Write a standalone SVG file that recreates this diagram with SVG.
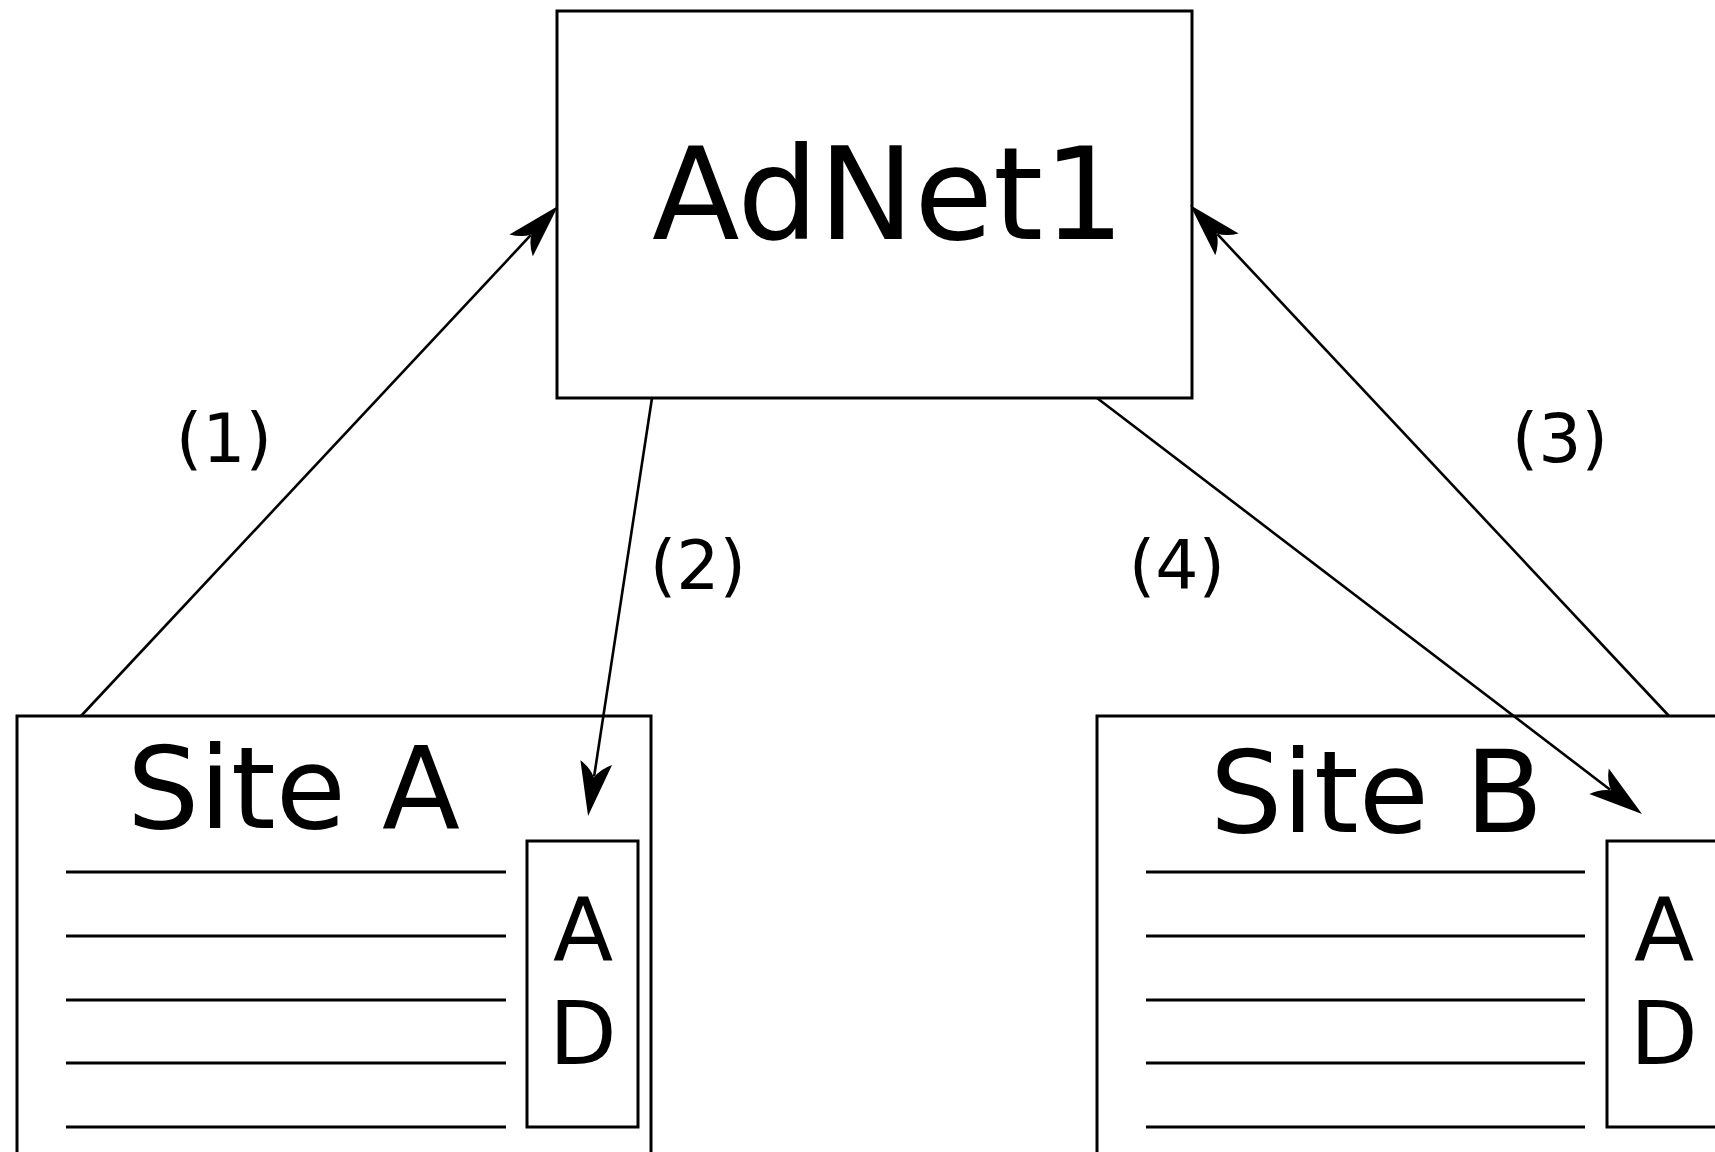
<svg xmlns="http://www.w3.org/2000/svg" width="1715" height="1152" viewBox="0 0 1715 1152">
<style>
  .box { fill: #ffffff; stroke: #000000; stroke-width: 3; }
  .rule { stroke: #000000; stroke-width: 2.8; fill: none; }
  .conn { stroke: #000000; stroke-width: 2.6; fill: none; marker-end: url(#arrow); }
  text { font-family: "DejaVu Sans", "Liberation Sans", sans-serif; fill: #000000; }
  .big { font-size: 128px; }
  .site { font-size: 114px; }
  .ad { font-size: 88px; text-anchor: middle; }
  .lbl { font-size: 68px; text-anchor: middle; }
</style>
<defs>
  <marker id="arrow" markerUnits="userSpaceOnUse" orient="auto" refX="0" refY="0" markerWidth="60" markerHeight="40" overflow="visible">
    <path d="M40,0 L-14,-16 Q-8,-5 1,0 Q-8,5 -14,16 Z" fill="#000000"/>
  </marker>
</defs>
<rect width="1715" height="1152" fill="#ffffff"/>

<g id="adnet1">
  <rect class="box" x="557" y="11" width="635" height="387"/>
  <text class="big" x="652" y="239">AdNet1</text>
</g>

<g id="siteA">
  <rect class="box" x="17" y="716" width="634" height="460"/>
  <text class="site" x="127" y="828">Site A</text>
  <line class="rule" x1="66" y1="872" x2="506" y2="872"/>
  <line class="rule" x1="66" y1="936" x2="506" y2="936"/>
  <line class="rule" x1="66" y1="1000" x2="506" y2="1000"/>
  <line class="rule" x1="66" y1="1063" x2="506" y2="1063"/>
  <line class="rule" x1="66" y1="1127" x2="506" y2="1127"/>
  <rect class="box" x="527" y="841" width="111" height="286"/>
  <text class="ad" x="583" y="960">A</text>
  <text class="ad" x="583" y="1064">D</text>
</g>

<g id="siteB">
  <rect class="box" x="1097" y="716" width="660" height="460"/>
  <text class="site" x="1210" y="832">Site B</text>
  <line class="rule" x1="1146" y1="872" x2="1585" y2="872"/>
  <line class="rule" x1="1146" y1="936" x2="1585" y2="936"/>
  <line class="rule" x1="1146" y1="1000" x2="1585" y2="1000"/>
  <line class="rule" x1="1146" y1="1063" x2="1585" y2="1063"/>
  <line class="rule" x1="1146" y1="1127" x2="1585" y2="1127"/>
  <rect class="box" x="1607" y="841" width="111" height="286"/>
  <text class="ad" x="1664" y="960">A</text>
  <text class="ad" x="1664" y="1064">D</text>
</g>

<g id="connectors">
  <path class="conn" d="M81,716 L530.7,235.2"/>
  <path class="conn" d="M652,398 L594.1,776.5"/>
  <path class="conn" d="M1669,716 L1217.4,234.2"/>
  <path class="conn" d="M1097,398 L1610.2,789.7"/>
  <text class="lbl" x="224" y="462">(1)</text>
  <text class="lbl" x="698" y="589">(2)</text>
  <text class="lbl" x="1560" y="462">(3)</text>
  <text class="lbl" x="1177" y="589">(4)</text>
</g>
</svg>
